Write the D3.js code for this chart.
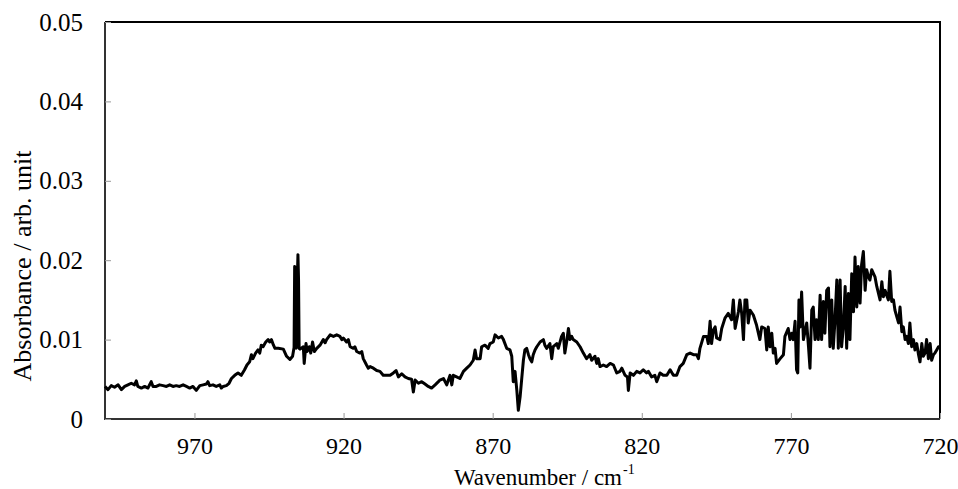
<!DOCTYPE html>
<html>
<head>
<meta charset="utf-8">
<script src="https://cdn.jsdelivr.net/npm/d3@7"></script>
</head>
<body style="margin:0; background:#fff">
<script>

// spectrum: wavenumber (cm-1) and absorbance
var wavenumber = [
  1000, 999, 997.9, 996.8, 995.6, 994.5, 993.4, 992.3, 991.2, 990.1,
  989.5, 989, 987.8, 986.7, 985.6, 984.5, 983.9, 982.8, 981.7, 980.5,
  979.4, 978.3, 977.2, 976.1, 975, 973.8, 972.7, 971.6, 970.5, 969.4,
  968.2, 967.1, 966, 965.5, 964.9, 963.8, 962.7, 961.5, 961, 960.4,
  959.3, 958.4, 957.6, 956.5, 955.4, 954.3, 953.2, 952.4, 951.5, 950.9,
  950.4, 949.5, 948.7, 948.1, 947.6, 947, 946.1, 945.3, 944.8, 944.2,
  943.5, 943, 941.9, 940.2, 939.1, 938, 937.1,
  936.6, 936.4, 936.1, 935.9, 935.6, 935.3, 935.1, 934.9, 934.6,
  933.5, 933.2, 932.6, 932.2, 931.5, 931, 930.4, 929.8, 929, 927.9,
  926.8, 926.2, 925.7, 924.5, 923.4, 922.3, 921.2, 920.6, 920.1, 919,
  918.4, 917.8, 916.7, 916.2, 915.6, 914.5, 913.9, 913.4, 912.3, 911.7,
  911.1, 910, 908.9, 907.8, 906.7, 905.5, 904.4, 903.3, 902.4, 901.6,
  900.5, 899.4, 898.3, 897.2, 896.6, 896, 894.9, 893.8, 892.7, 891.6,
  890.5, 889.3, 888.2,
  887.7, 886.5, 885.4, 884.3, 883.7, 883.2, 882.1, 881, 879.8, 878.7,
  877.6, 876.5, 875.9, 875.4, 874.2, 873.7, 872.6, 871.5, 870.9, 869.8,
  869.2, 868.1, 867, 866.4, 865.3, 864.2, 863.6, 863.1, 862.5, 861.9,
  861.4, 860.8, 860.3, 859.7, 859.2, 858.6, 858, 857.5, 856.9, 856.4,
  855.8, 855.2, 854.1, 853, 852.5, 851.9, 850.8, 850.2, 849.7, 848.5,
  848, 846.9, 846.3, 845.8, 845.2, 844.6, 844.1, 843.5, 843, 841.8,
  840.7, 839.6, 838.5, 837.4, 836.8, 835.7, 835.1, 834.6, 834, 832.9,
  831.8,
  830.6, 829.5, 828.4, 827.3, 826.7, 825.6, 824.8, 824.5, 823.9, 822.8,
  821.7, 820.6, 819.5, 818.4, 817.8, 816.7, 815.6, 815, 813.9, 812.8,
  811.6, 810.5, 809.4, 808.3, 807.2, 806.1, 804.9, 803.8, 802.7, 801.6,
  801, 800.5, 799.3, 798.2, 797.7, 797.1, 796.6, 796, 795.4, 794.9,
  793.8, 793.2, 792.1, 791, 789.9, 789.3, 788.7, 787.6, 787.1, 786.5,
  785.9, 785.4, 784.8, 784.3, 783.7, 782.6, 781.5, 780.4, 779.8, 778.7,
  778.1, 777.6, 777, 776.4, 775.9,
  775.3, 774.8, 773.6, 772.5, 772, 770.9, 770.3, 769.7, 769.2, 768.6,
  768.1, 767.7, 767.3, 766.9, 766.4, 765.8, 764.7, 764.1, 763.6, 763,
  762.5, 761.9, 761.4, 760.8, 760.2, 759.7, 759.1, 758.6, 758, 757.4,
  756.9, 756.3, 755.8, 755.2, 754.6, 754.1, 753.5, 753, 752.4, 751.8,
  751.3, 750.7, 750.2, 749.6, 749, 748.5, 747.9, 747.4, 746.8, 746.3,
  745.7, 745.1, 744.6, 744, 743.5, 742.9, 742.3, 741.8, 741.2, 740.1,
  739.5, 739, 738.4, 737.9, 737.3, 736.8, 736.2, 735.6, 735.1, 734.5,
  733.9, 733.4, 732.8, 732.3, 731.7, 731.2, 730.6, 730.1, 729.5, 728.9,
  728.4, 727.8, 727.2, 726.7, 726.1, 725.6, 725, 724.5, 723.9, 723.3,
  722.8, 722.2, 721.7, 721.1, 720.5, 720
];

var absorbance = [
  0.0041, 0.0037, 0.0042, 0.0040, 0.0043, 0.0037, 0.0041, 0.0043, 0.0045, 0.0043,
  0.0048, 0.0041, 0.0039, 0.0041, 0.0039, 0.0047, 0.0041, 0.0041, 0.0043, 0.0042,
  0.0041, 0.0043, 0.0041, 0.0042, 0.0041, 0.0043, 0.0041, 0.0039, 0.0041, 0.0036,
  0.0042, 0.0043, 0.0044, 0.0047, 0.0042, 0.0043, 0.0041, 0.0043, 0.0039, 0.0041,
  0.0042, 0.0045, 0.0051, 0.0055, 0.0058, 0.0055, 0.0062, 0.0068, 0.0072, 0.0081,
  0.0076, 0.0083, 0.0087, 0.0083, 0.0093, 0.0091, 0.0097, 0.0100, 0.0097, 0.0100,
  0.0093, 0.0089, 0.0089, 0.0088, 0.0079, 0.0075, 0.0079,
  0.0090, 0.0192, 0.0190, 0.0089, 0.0162, 0.0207, 0.0175, 0.0089, 0.0088,
  0.0091, 0.0070, 0.0095, 0.0085, 0.0091, 0.0083, 0.0097, 0.0085, 0.0089, 0.0093,
  0.0100, 0.0096, 0.0100, 0.0106, 0.0104, 0.0106, 0.0104, 0.0100, 0.0102, 0.0097,
  0.0100, 0.0091, 0.0089, 0.0091, 0.0085, 0.0083, 0.0085, 0.0076, 0.0068, 0.0064,
  0.0066, 0.0064, 0.0061, 0.0060, 0.0055, 0.0055, 0.0055, 0.0058, 0.0061, 0.0053,
  0.0057, 0.0053, 0.0051, 0.0050, 0.0034, 0.0049, 0.0045, 0.0047, 0.0044, 0.0041,
  0.0039, 0.0043, 0.0047,
  0.0049, 0.0051, 0.0043, 0.0055, 0.0043, 0.0055, 0.0053, 0.0051, 0.0060, 0.0064,
  0.0068, 0.0074, 0.0087, 0.0076, 0.0076, 0.0091, 0.0093, 0.0089, 0.0095, 0.0097,
  0.0106, 0.0102, 0.0104, 0.0100, 0.0089, 0.0087, 0.0079, 0.0047, 0.0060, 0.0036,
  0.0011, 0.0028, 0.0049, 0.0074, 0.0087, 0.0089, 0.0081, 0.0076, 0.0072, 0.0081,
  0.0087, 0.0091, 0.0097, 0.0100, 0.0093, 0.0089, 0.0095, 0.0076, 0.0091, 0.0095,
  0.0089, 0.0104, 0.0108, 0.0083, 0.0097, 0.0114, 0.0100, 0.0104, 0.0100, 0.0097,
  0.0091, 0.0083, 0.0076, 0.0081, 0.0074, 0.0079, 0.0070, 0.0076, 0.0066, 0.0068,
  0.0066,
  0.0070, 0.0068, 0.0058, 0.0060, 0.0064, 0.0055, 0.0053, 0.0036, 0.0058, 0.0055,
  0.0060, 0.0058, 0.0062, 0.0058, 0.0060, 0.0053, 0.0055, 0.0047, 0.0058, 0.0055,
  0.0055, 0.0062, 0.0055, 0.0055, 0.0066, 0.0070, 0.0081, 0.0083, 0.0081, 0.0081,
  0.0076, 0.0089, 0.0104, 0.0104, 0.0095, 0.0123, 0.0095, 0.0112, 0.0116, 0.0102,
  0.0100, 0.0114, 0.0127, 0.0133, 0.0125, 0.0150, 0.0114, 0.0135, 0.0150, 0.0133,
  0.0100, 0.0150, 0.0150, 0.0121, 0.0137, 0.0131, 0.0118, 0.0100, 0.0116, 0.0114,
  0.0087, 0.0116, 0.0091, 0.0108, 0.0083,
  0.0089, 0.0070, 0.0076, 0.0081, 0.0104, 0.0114, 0.0100, 0.0108, 0.0100, 0.0123,
  0.0062, 0.0058, 0.0150, 0.0116, 0.0160, 0.0100, 0.0121, 0.0091, 0.0064, 0.0137,
  0.0141, 0.0100, 0.0125, 0.0100, 0.0156, 0.0100, 0.0148, 0.0108, 0.0162, 0.0165,
  0.0091, 0.0150, 0.0089, 0.0125, 0.0175, 0.0089, 0.0175, 0.0091, 0.0116, 0.0167,
  0.0089, 0.0158, 0.0100, 0.0183, 0.0135, 0.0204, 0.0141, 0.0192, 0.0146, 0.0194,
  0.0211, 0.0162, 0.0188, 0.0179, 0.0175, 0.0188, 0.0183, 0.0179, 0.0167, 0.0150,
  0.0173, 0.0154, 0.0162, 0.0156, 0.0150, 0.0186, 0.0148, 0.0150, 0.0137, 0.0129,
  0.0121, 0.0141, 0.0110, 0.0116, 0.0100, 0.0104, 0.0095, 0.0121, 0.0091, 0.0100,
  0.0087, 0.0095, 0.0081, 0.0072, 0.0095, 0.0079, 0.0083, 0.0100, 0.0076, 0.0095,
  0.0074, 0.0081, 0.0083, 0.0087, 0.0091, 0.0091
];

var xTicks = [970, 920, 870, 820, 770, 720];
var yTicks = [0, 0.01, 0.02, 0.03, 0.04, 0.05];

var serif = "'Liberation Serif', 'Times New Roman', serif";
var width = 958, height = 489;
var margin = {top: 22, right: 18, bottom: 70, left: 105};

var svg = d3.select("body").append("svg")
  .attr("width", width).attr("height", height);

var x = d3.scaleLinear().domain([1000, 720]).range([margin.left, width - margin.right]);
var y = d3.scaleLinear().domain([0, 0.05]).range([height - margin.bottom, margin.top]);

// frame: top/right black, left/bottom a bit greyer like the original
var x0 = margin.left, x1 = width - margin.right, y0 = margin.top, y1 = height - margin.bottom;
svg.append("path")
  .attr("d", "M" + x0 + "," + y0 + "H" + x1 + "V" + y1)
  .attr("fill", "none").attr("stroke", "#000").attr("stroke-width", 2);
svg.append("path")
  .attr("d", "M" + x0 + "," + y0 + "V" + y1 + "H" + x1)
  .attr("fill", "none").attr("stroke", "#333").attr("stroke-width", 2);

// x axis, ticks pointing inside
var xAxis = svg.append("g")
  .attr("transform", "translate(0," + y1 + ")")
  .call(d3.axisBottom(x).tickValues(xTicks).tickSizeInner(-6).tickSizeOuter(0).tickPadding(18)
    .tickFormat(d3.format("d")));
xAxis.select(".domain").remove();
xAxis.selectAll("line").attr("stroke", "#999");
xAxis.selectAll("text").style("font-family", serif).style("font-size", "24px").attr("fill", "#000");

var yAxis = svg.append("g")
  .attr("transform", "translate(" + x0 + ",0)")
  .call(d3.axisLeft(y).tickValues(yTicks).tickSizeInner(-6).tickSizeOuter(0).tickPadding(22)
    .tickFormat(function(d){ return d === 0 ? "0" : d3.format(".2f")(d); }));
yAxis.select(".domain").remove();
yAxis.selectAll("line").attr("stroke", "#999");
yAxis.selectAll("text").style("font-family", serif).style("font-size", "25px").attr("fill", "#000");

// spectrum
var line = d3.line()
  .x(function(d, i){ return x(wavenumber[i]); })
  .y(function(d){ return y(d); });

svg.append("path")
  .datum(absorbance)
  .attr("fill", "none")
  .attr("stroke", "#000")
  .attr("stroke-width", 3)
  .attr("stroke-linejoin", "round")
  .attr("d", line);

// axis titles
var xt = svg.append("text")
  .attr("x", 538).attr("y", 485)
  .attr("text-anchor", "middle")
  .style("font-family", serif).style("font-size", "23px")
  .text("Wavenumber / cm");
var xtBox = xt.node().getBBox();
svg.append("text")
  .attr("x", xtBox.x + xtBox.width + 1).attr("y", 474)
  .style("font-family", serif).style("font-size", "14px")
  .text("-1");

svg.append("text")
  .attr("transform", "translate(31,266) rotate(-90)")
  .attr("text-anchor", "middle")
  .style("font-family", serif).style("font-size", "26px")
  .text("Absorbance / arb. unit");

</script>
</body>
</html>
